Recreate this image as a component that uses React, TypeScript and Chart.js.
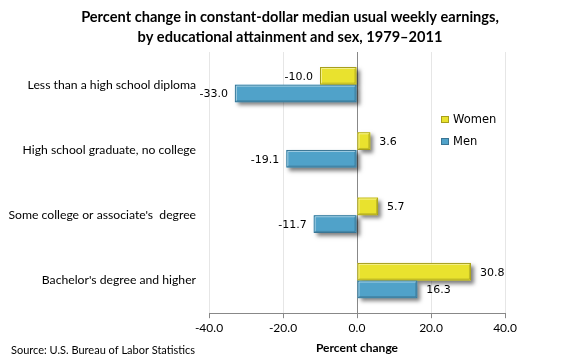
import React, { useEffect, useRef } from "react";
import { Chart, registerables } from "chart.js";

Chart.register(...registerables);

const categories = [
  "Less than a high school diploma",
  "High school graduate, no college",
  "Some college or associate's  degree",
  "Bachelor's degree and higher",
];
const seriesNames = ["Women", "Men"];
const women = [-10.0, 3.6, 5.7, 30.8];
const men = [-33.0, -19.1, -11.7, 16.3];
const xMin = -40;
const xMax = 40;
const xStep = 20;
const titleLines = [
  "Percent change in constant-dollar median usual weekly earnings,",
  "by educational attainment and sex, 1979\u20132011",
];
const xTitle = "Percent change";
const sourceText = "Source: U.S. Bureau of Labor Statistics";

const fills = ["#E9E22E", "#50A2C9"];
const borders = ["#A79F1C", "#3A7594"];

function barRect(bar: any) {
  const p = bar.getProps(["x", "y", "base", "height"], true);
  const left = Math.min(p.x, p.base);
  const right = Math.max(p.x, p.base);
  const top = p.y - p.height / 2;
  return { left, top, w: right - left, h: p.height };
}

function bevel(ctx: any, l: number, t: number, w: number, h: number) {
  ctx.lineWidth = 1;
  ctx.strokeStyle = "rgba(255,255,255,0.45)";
  ctx.beginPath();
  ctx.moveTo(l + 1.5, t + h - 1.5);
  ctx.lineTo(l + 1.5, t + 1.5);
  ctx.lineTo(l + w - 1.5, t + 1.5);
  ctx.stroke();
  ctx.strokeStyle = "rgba(0,0,0,0.18)";
  ctx.beginPath();
  ctx.moveTo(l + w - 1.5, t + 1.5);
  ctx.lineTo(l + w - 1.5, t + h - 1.5);
  ctx.lineTo(l + 1.5, t + h - 1.5);
  ctx.stroke();
}

const shadowPlugin = {
  id: "barShadow",
  beforeDatasetsDraw(chart: any) {
    const ctx = chart.ctx;
    chart.data.datasets.forEach((ds: any, di: number) => {
      const meta = chart.getDatasetMeta(di);
      meta.data.forEach((bar: any) => {
        const r = barRect(bar);
        ctx.save();
        ctx.shadowColor = "rgba(0,0,0,0.5)";
        ctx.shadowBlur = 4;
        ctx.shadowOffsetX = 3;
        ctx.shadowOffsetY = 3;
        ctx.fillStyle = fills[di];
        ctx.fillRect(r.left, r.top, r.w, r.h);
        ctx.restore();
      });
    });
  },
  afterDatasetsDraw(chart: any) {
    const ctx = chart.ctx;
    ctx.save();
    chart.data.datasets.forEach((ds: any, di: number) => {
      const meta = chart.getDatasetMeta(di);
      meta.data.forEach((bar: any) => {
        const r = barRect(bar);
        if (r.w > 4) bevel(ctx, r.left, r.top, r.w, r.h);
      });
    });
    ctx.restore();
  },
};

const valueLabelPlugin = {
  id: "valueLabels",
  afterDatasetsDraw(chart: any) {
    const ctx = chart.ctx;
    ctx.save();
    ctx.font = "11px 'DejaVu Sans'";
    ctx.fillStyle = "#000";
    ctx.textBaseline = "middle";
    chart.data.datasets.forEach((ds: any, di: number) => {
      const meta = chart.getDatasetMeta(di);
      meta.data.forEach((bar: any, i: number) => {
        const v = ds.data[i];
        const txt = v.toFixed(1);
        if (v < 0) {
          ctx.textAlign = "right";
          ctx.fillText(txt, bar.x - 7, bar.y + 1);
        } else {
          ctx.textAlign = "left";
          ctx.fillText(txt, bar.x + 9, bar.y + 1);
        }
      });
    });
    ctx.restore();
  },
};

const extrasPlugin = {
  id: "extras",
  afterDraw(chart: any) {
    const ctx = chart.ctx;
    ctx.save();
    // legend
    const lx = 441;
    const ly = [116, 138];
    seriesNames.forEach((name, i) => {
      ctx.fillStyle = fills[i];
      ctx.fillRect(lx, ly[i], 8, 7);
      ctx.strokeStyle = borders[i];
      ctx.lineWidth = 1;
      ctx.strokeRect(lx + 0.5, ly[i] + 0.5, 7, 6);
      ctx.fillStyle = "#000";
      ctx.font = "11.5px 'DejaVu Sans'";
      ctx.textAlign = "left";
      ctx.textBaseline = "middle";
      ctx.fillText(name, lx + 12, ly[i] + 4.5);
    });
    // source
    ctx.font = "11px Lato";
    ctx.fillStyle = "#000";
    ctx.textAlign = "left";
    ctx.textBaseline = "middle";
    ctx.fillText(sourceText, 11, 350);
    ctx.restore();
  },
};

export default function App() {
  const ref = useRef<HTMLCanvasElement | null>(null);
  useEffect(() => {
    document.body.style.margin = "0";
    const canvas = ref.current;
    if (!canvas) return;
    const chart = new Chart(canvas, {
      type: "bar",
      data: {
        labels: categories,
        datasets: [
          {
            label: seriesNames[0],
            data: women,
            backgroundColor: fills[0],
            borderColor: borders[0],
            borderWidth: 1,
            borderSkipped: false,
          },
          {
            label: seriesNames[1],
            data: men,
            backgroundColor: fills[1],
            borderColor: borders[1],
            borderWidth: 1,
            borderSkipped: false,
          },
        ],
      },
      options: {
        indexAxis: "y",
        responsive: false,
        animation: false,
        devicePixelRatio: 1,
        categoryPercentage: 0.54,
        barPercentage: 1.0,
        layout: { padding: { left: 0, right: 0, top: 0, bottom: 5 } },
        plugins: {
          legend: { display: false },
          tooltip: { enabled: false },
          title: {
            display: true,
            text: titleLines,
            color: "#000",
            font: { family: "Lato", size: 14.6, weight: "bold", lineHeight: 1.37 },
            padding: { top: 7, bottom: 5 },
          },
        },
        scales: {
          x: {
            min: xMin,
            max: xMax,
            ticks: {
              stepSize: xStep,
              color: "#000",
              padding: 3,
              font: { family: "Lato", size: 12 },
              callback: (v: any) => Number(v).toFixed(1),
            },
            grid: {
              color: (c: any) => (c.tick && c.tick.value === 0 ? "#888" : "#e6e6e6"),
              tickColor: "#888",
              tickLength: 5,
              drawTicks: true,
            },
            border: { display: true, color: "#888" },
            title: {
              display: true,
              text: xTitle,
              color: "#000",
              font: { family: "Lato", size: 12, weight: "bold" },
              padding: { top: 2, bottom: 0 },
            },
            afterFit: (s: any) => {
              s.paddingRight = 75;
            },
          },
          y: {
            grid: { display: false, drawTicks: false },
            border: { display: false },
            ticks: {
              color: "#000",
              padding: 13,
              font: { family: "Lato", size: 12.2 },
            },
            afterFit: (s: any) => {
              s.width = 209;
            },
          },
        },
      } as any,
      plugins: [shadowPlugin, valueLabelPlugin, extrasPlugin],
    });
    return () => chart.destroy();
  }, []);
  return (
    <div style={{ position: "absolute", left: 0, top: 0, width: 580, height: 360, background: "#fff" }}>
      <canvas ref={ref} width={580} height={360} />
    </div>
  );
}
